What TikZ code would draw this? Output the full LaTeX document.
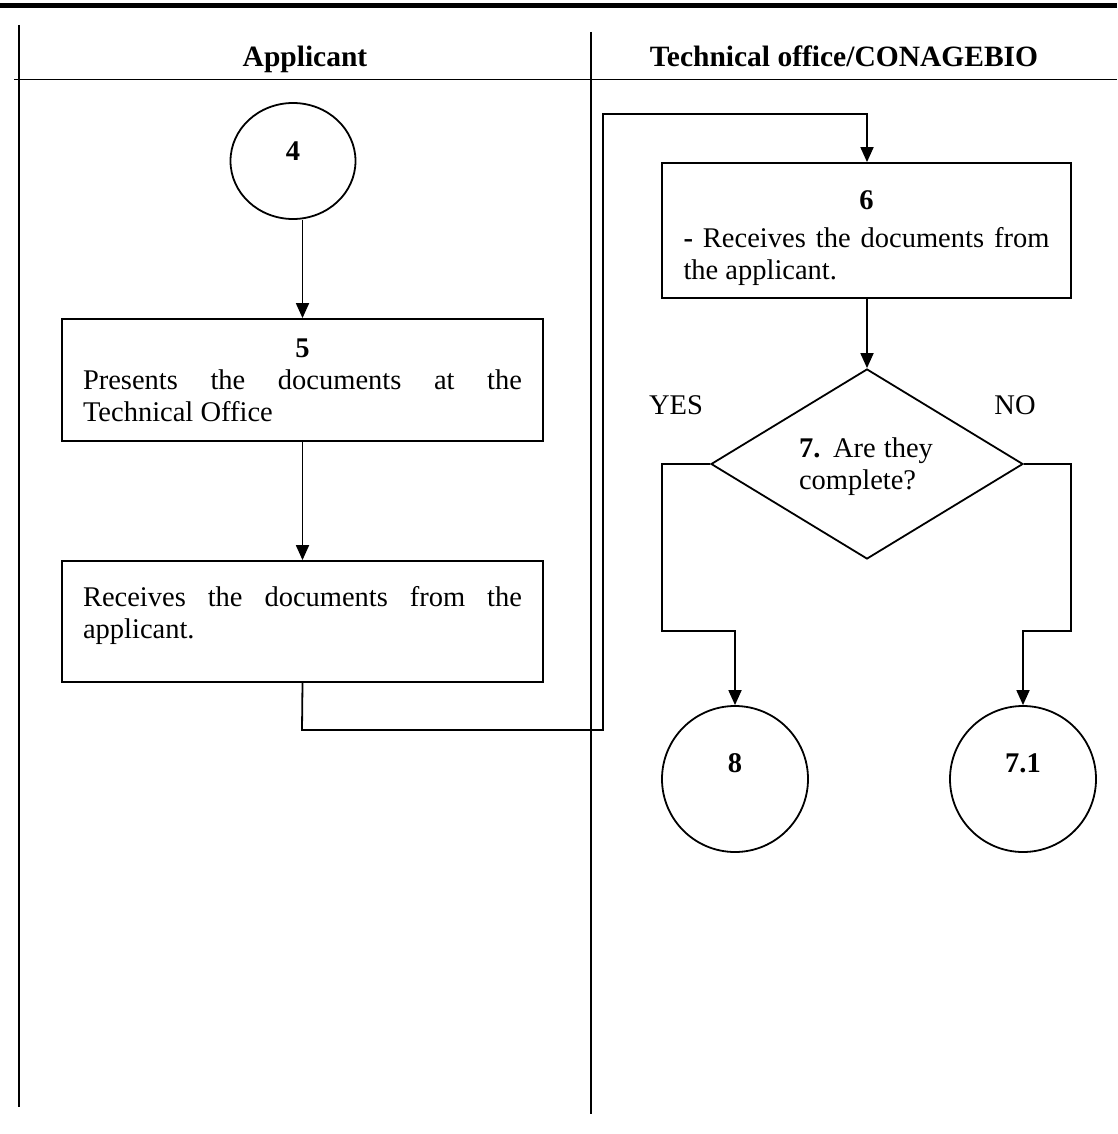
\documentclass[tikz,border=0pt]{standalone}
\usepackage{fontspec}
\setmainfont{Liberation Serif}
\usetikzlibrary{arrows.meta,shapes.geometric}
\begin{document}
\begin{tikzpicture}[x=1pt,y=-1pt,
  font=\fontsize{28.5}{32}\selectfont,
  lane/.style={line width=2pt},
  box/.style={draw,line width=1.8pt,inner xsep=21pt,inner ysep=0pt,align=justify},
  rbox/.style={draw,line width=1.8pt,inner sep=0pt},
  circ/.style={draw,line width=1.8pt,ellipse,inner sep=0pt},
  dia/.style={draw,line width=1.8pt,diamond,inner sep=0pt},
  conn/.style={line width=1.8pt},
  arr/.style={conn,-{Triangle[length=15pt,width=13pt]}},
  hdr/.style={font=\fontsize{29.5}{32}\selectfont\bfseries,anchor=base},
  num/.style={inner sep=0pt,anchor=base,font=\fontsize{28.5}{32}\selectfont\bfseries},
  txt/.style={inner sep=0pt}
]
\useasboundingbox (0,0) rectangle (1117,1134);
% top rule and lanes
\draw[line width=4.5pt] (0,5.5) -- (1117,5.5);
\draw[lane] (18.5,25) -- (18.5,1107);
\draw[lane] (591,32) -- (591,1114);
\draw[line width=1.8pt] (14,79.5) -- (1117,79.5);
\node[hdr] (h1) at (305,67) {Applicant};
\node[hdr] (h2) at (844,67) {Technical office/CONAGEBIO};
% left lane
\node[circ,minimum width=125pt,minimum height=116pt] (c4) at (293,161) {};
\node[num] (c4t) at (293,161) {4};
\node[box,text width=439pt,minimum height=122pt] (b5) at (302.5,380) {\makebox[\linewidth]{\textbf{5}}\par Presents the documents at the\linebreak Technical Office};
\node[rbox,minimum width=481pt,minimum height=121pt] (br) at (302.5,621.5) {};
\node[txt,text width=439pt,align=justify] (brt) at (302.5,615) {Receives the documents from the\linebreak applicant.};
% right lane
\node[rbox,minimum width=409pt,minimum height=135pt] (b6) at (866.5,230.5) {};
\node[txt,text width=366pt,align=justify] (b6t) at (866.5,238.5) {\makebox[\linewidth]{\textbf{6}}\par\vspace{6pt}\textbf{-} Receives the documents from\linebreak the applicant.};
\node[dia,minimum width=312pt,minimum height=190pt] (d7) at (867,464) {};
\node[txt,text width=134pt,align=justify] (d7t) at (866,466.5) {\textbf{7.} Are they\linebreak complete?};
\node[txt,anchor=base] (yes) at (676,414) {YES};
\node[txt,anchor=base] (no) at (1015,414) {NO};
\node[circ,circle,minimum size=146pt] (c8) at (735,779) {};
\node[num] (c8t) at (735,772) {8};
\node[circ,circle,minimum size=146pt] (c71) at (1023,779) {};
\node[num] (c71t) at (1023,772) {7.1};
% connectors
\coordinate (k1) at (302,730);
\coordinate (k2) at (603,730);
\coordinate (k3) at (603,114);
\coordinate (k4) at (867,114);
\draw[arr] (c4.south -| b5.north) -- (b5.north);
\draw[arr] (b5.south) -- (br.north);
\draw[arr] (br.south) -- (k1) -- (k2) -- (k3) -- (k4) -- (b6.north -| k4);
\draw[arr] (b6.south -| d7.north) -- (d7.north);
\coordinate (l1) at (662,464);
\coordinate (l2) at (662,631);
\coordinate (l3) at (735,631);
\draw[arr] (d7.west) -- (l1) -- (l2) -- (l3) -- (c8.north);
\coordinate (r1) at (1071,464);
\coordinate (r2) at (1071,631);
\coordinate (r3) at (1023,631);
\draw[arr] (d7.east) -- (r1) -- (r2) -- (r3) -- (c71.north);
\end{tikzpicture}
\end{document}
